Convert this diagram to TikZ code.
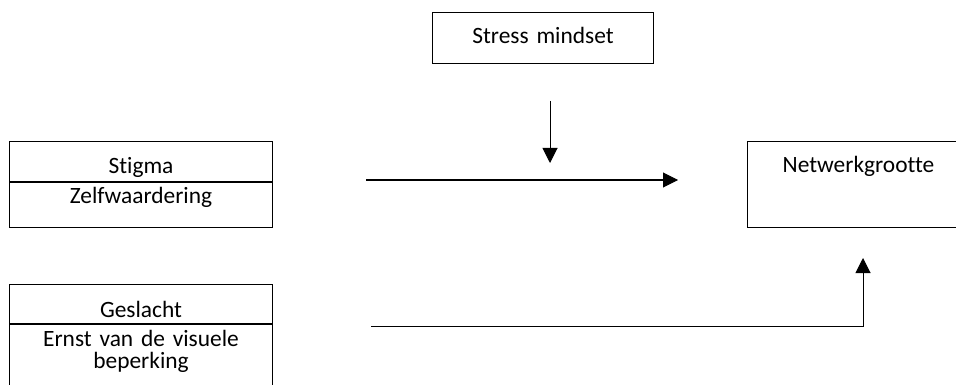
\documentclass[tikz,border=0pt]{standalone}
\usepackage{fontspec}
\setmainfont[Ligatures=NoCommon]{Carlito}
\usetikzlibrary{arrows.meta,positioning}
\begin{document}
\begin{tikzpicture}[x=1pt,y=-1pt,
                font=\fontsize{23.4}{22}\selectfont,
                box/.style={rectangle, draw=black, line width=1pt, inner sep=0pt, anchor=north west, align=center},
                arr/.style={-{Triangle[length=15pt,width=15pt]}, line width=1pt},
            ]
            \useasboundingbox (0,0) rectangle (956,385);
            \clip (0,0) rectangle (956,385);

            \node[box, text width=221pt, text height=31.5pt, text depth=19.5pt] (stress) at (432,12) {Stress mindset};

            \node[box, text width=263pt, text height=32.5pt, text depth=7.5pt] (stigma) at (9,141) {Stigma};
            \node[box, text width=263pt, text height=21.5pt, text depth=23.5pt, anchor=north] (zelf) at (stigma.south) {Zelfwaardering};

            \node[box, text width=263pt, text height=32.5pt, text depth=6.5pt] (geslacht) at (9,284) {Geslacht};
            \node[box, text width=263pt, text height=21.5pt, text depth=60pt, anchor=north] (ernst) at (geslacht.south) {Ernst van de visuele\\beperking};

            \node[box, text width=222pt, text height=30.5pt, text depth=55.5pt] (netwerk) at (747,141) {Netwerkgrootte};

            \coordinate (modtop) at (550,101);
            \coordinate (modend) at (550,163);
            \coordinate (pathstart) at (366,180);
            \coordinate (pathend) at (678,180);
            \coordinate (ctrlstart) at (371,326);
            \coordinate (ctrlend) at (863,258);

            \draw[arr] (modtop) -- (modend);
            \draw[arr] (pathstart) -- (pathend);
            \draw[arr] (ctrlstart) -| (ctrlend);
        \end{tikzpicture}
\end{document}
